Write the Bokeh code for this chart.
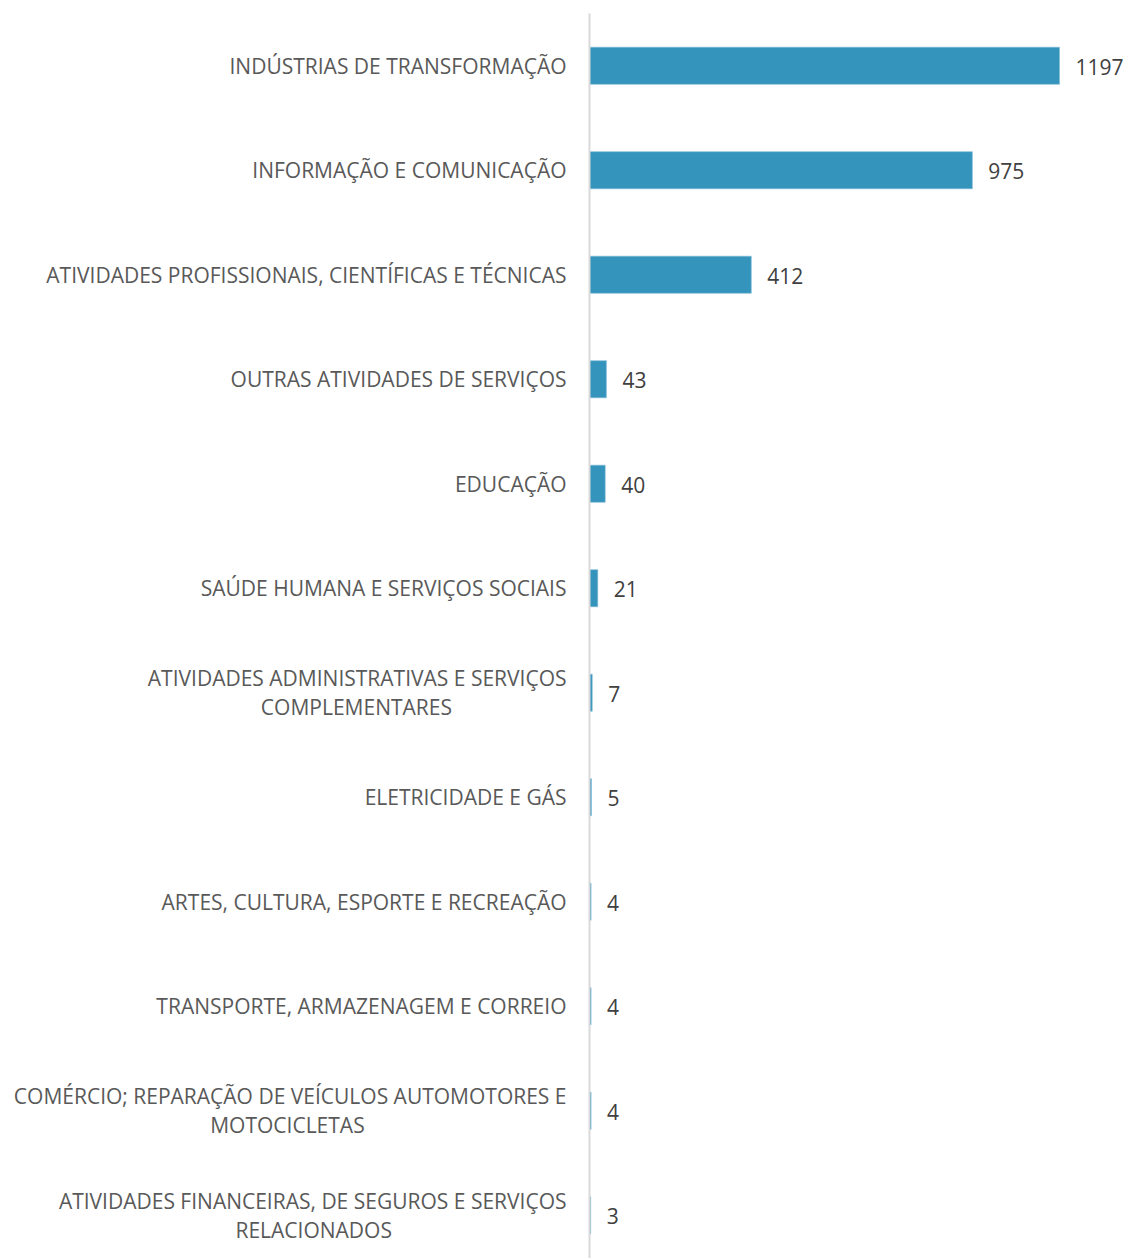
from bokeh.plotting import figure
from bokeh.models import Range1d, FixedTicker, ColumnDataSource
from bokeh.core.properties import value
from bokeh.embed import file_html
from bokeh.resources import INLINE

categories = [
    "INDÚSTRIAS DE TRANSFORMAÇÃO",
    "INFORMAÇÃO E COMUNICAÇÃO",
    "ATIVIDADES PROFISSIONAIS, CIENTÍFICAS E TÉCNICAS",
    "OUTRAS ATIVIDADES DE SERVIÇOS",
    "EDUCAÇÃO",
    "SAÚDE HUMANA E SERVIÇOS SOCIAIS",
    "ATIVIDADES ADMINISTRATIVAS E SERVIÇOS\nCOMPLEMENTARES",
    "ELETRICIDADE E GÁS",
    "ARTES, CULTURA, ESPORTE E RECREAÇÃO",
    "TRANSPORTE, ARMAZENAGEM E CORREIO",
    "COMÉRCIO; REPARAÇÃO DE VEÍCULOS AUTOMOTORES E\nMOTOCICLETAS",
    "ATIVIDADES FINANCEIRAS, DE SEGUROS E SERVIÇOS\nRELACIONADOS",
]
values = [1197, 975, 412, 43, 40, 21, 7, 5, 4, 4, 4, 3]

FONT = "Open Sans"

# Axis labels are right-aligned line by line; pad the second line with
# non-breaking spaces so that it sits centred under the first line.
second_line_pad = {6: 21, 10: 37, 11: 32}


def axis_text(i, label):
    if "\n" not in label:
        return label
    first, second = label.split("\n", 1)
    return first + "\n" + second + "\u00a0" * second_line_pad.get(i, 0)


positions = list(range(len(categories)))
source = ColumnDataSource(dict(
    y=positions,
    v=values,
    txt=[str(v) for v in values],
))

p = figure(
    width=1125, height=1258,
    x_range=Range1d(0, 1365),
    y_range=Range1d(11.414, -0.5),
    x_axis_location=None,
    output_backend="svg", toolbar_location=None,
    min_border_left=589, min_border_right=0,
    min_border_top=13, min_border_bottom=0,
)
p.outline_line_color = None
p.grid.visible = False
p.background_fill_color = "white"

p.hbar(y="y", right="v", left=0, height=0.355, source=source,
       fill_color="#3594BC", line_color="#7DBAD6", line_width=0.6)

p.text(x="v", y="y", text="txt", source=source,
       x_offset=16, y_offset=1, text_baseline="middle", text_align="left",
       text_font=value(FONT), text_font_size="21px", text_color="#404040")

ax = p.yaxis[0]
ax.ticker = FixedTicker(ticks=positions)
ax.major_label_overrides = {i: axis_text(i, c) for i, c in zip(positions, categories)}
ax.major_tick_line_color = None
ax.minor_tick_line_color = None
ax.axis_line_color = "#D9D9D9"
ax.axis_line_width = 2
ax.major_label_standoff = 17
ax.major_label_text_font = FONT
ax.major_label_text_font_size = "21px"
ax.major_label_text_color = "#595959"
ax.major_label_text_line_height = 1.02

open("out.html", "w").write(file_html(p, INLINE))
